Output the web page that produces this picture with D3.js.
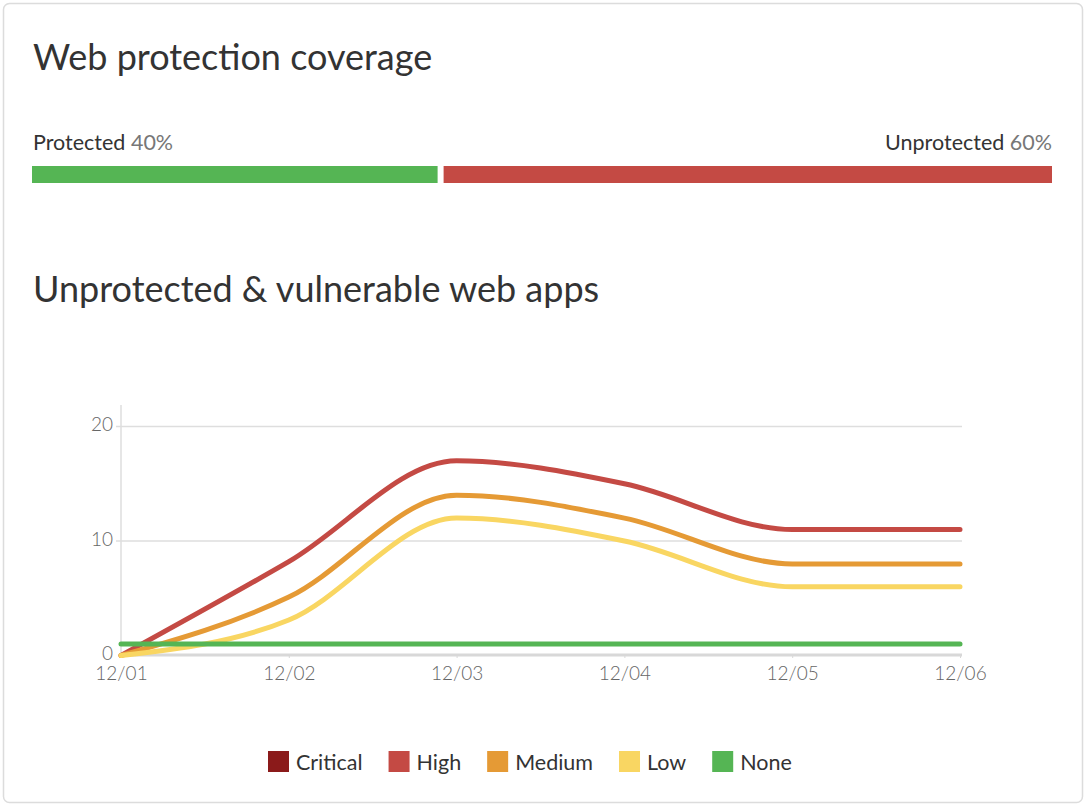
<!DOCTYPE html>
<html><head><meta charset="utf-8">
<script src="https://cdn.jsdelivr.net/npm/d3@7"></script>
<style>
html,body{margin:0;padding:0;background:#fff;}
body{width:1086px;height:806px;overflow:hidden;font-family:Lato,"Open Sans",sans-serif;}
</style></head>
<body><svg id="c" width="1086" height="806"></svg>
<script>
const coverageLabels = ["Protected", "Unprotected"];
const coverageValues = [40, 60];
const coverageColors = ["#55b554", "#c44a44"];

const dates = ["12/01", "12/02", "12/03", "12/04", "12/05", "12/06"];
const seriesNames = ["Critical", "High", "Medium", "Low", "None"];
const seriesColors = ["#8b1a1a", "#c44a44", "#e59a35", "#f9d662", "#55b554"];
const critical = [0, 0, 0, 0, 0, 0];
const high = [0, 8.2, 17, 15, 11, 11];
const medium = [0, 5.1, 14, 12, 8, 8];
const low = [0, 3.1, 12, 10, 6, 6];
const none = [1, 1, 1, 1, 1, 1];
const yTicks = [0, 10, 20];

const seriesValues = [critical, high, medium, low, none];
const svg = d3.select("#c");

// card
svg.append("rect").attr("x", 3.5).attr("y", 3.5).attr("width", 1079).attr("height", 799)
  .attr("rx", 6).attr("fill", "#fff").attr("stroke", "#dcdcdc").attr("stroke-width", 1.5);

svg.append("text").attr("x", 33).attr("y", 70).attr("font-size", 36).attr("fill", "#333")
  .text("Web protection coverage");

// coverage bar
const total = d3.sum(coverageValues);
const gap = 6;
const bx = d3.scaleLinear().domain([0, total]).range([32, 1052 - gap]);
let acc = 0;
coverageValues.forEach((v, i) => {
  const x0 = bx(acc) + (i > 0 ? gap : 0);
  const x1 = bx(acc + v) + (i > 0 ? gap : 0);
  svg.append("rect").attr("x", x0).attr("y", 166).attr("width", x1 - x0).attr("height", 17)
    .attr("fill", coverageColors[i]);
  acc += v;
});
const lt = svg.append("text").attr("x", 33).attr("y", 149.5).attr("font-size", 21.5).attr("fill", "#333");
lt.append("tspan").text(coverageLabels[0] + " ");
lt.append("tspan").attr("fill", "#777").text(coverageValues[0] + "%");
const rt = svg.append("text").attr("x", 1052).attr("y", 149.5).attr("font-size", 21.5).attr("fill", "#333")
  .attr("text-anchor", "end");
rt.append("tspan").text(coverageLabels[1] + " ");
rt.append("tspan").attr("fill", "#777").text(coverageValues[1] + "%");

svg.append("text").attr("x", 33).attr("y", 302).attr("font-size", 36).attr("fill", "#333")
  .text("Unprotected & vulnerable web apps");

// line chart
const x = d3.scalePoint().domain(dates).range([121, 960]);
const y = d3.scaleLinear().domain([0, 20]).range([655.5, 426.5]);
const g = svg.append("g");

// grid
g.selectAll("line.grid").data(yTicks.filter(t => t > 0)).join("line")
  .attr("x1", 116).attr("x2", 962).attr("y1", d => y(d)).attr("y2", d => y(d))
  .attr("stroke", "#dedede").attr("stroke-width", 1.5);
// y axis line
g.append("line").attr("x1", 121).attr("x2", 121).attr("y1", 405).attr("y2", 656)
  .attr("stroke", "#dedede").attr("stroke-width", 1.5);

// y labels
g.selectAll("text.yl").data(yTicks).join("text")
  .attr("x", 113).attr("y", d => y(d) - 2).attr("dy", "0.35em").attr("text-anchor", "end")
  .attr("font-size", 19).attr("font-weight", 300).attr("fill", "#666").text(d => d);

// x axis
const xAxis = d3.axisBottom(x).tickSize(3).tickPadding(9);
const xg = g.append("g").attr("transform", "translate(0,655)").call(xAxis);
xg.select(".domain").attr("stroke", "#d8d8d8").attr("stroke-width", 3).attr("d", "M119,0H962");
xg.selectAll(".tick line").attr("stroke", "#d8d8d8");
xg.selectAll(".tick text").attr("font-size", 19).attr("font-weight", 300).attr("fill", "#666")
  .attr("font-family", "Lato, sans-serif");

// lines
const line = d3.line().x((d, i) => x(dates[i])).y(d => y(d)).curve(d3.curveMonotoneX);
seriesValues.forEach((vals, i) => {
  if (i === 0) return; // critical hidden under axis
  g.append("path").attr("d", line(vals)).attr("fill", "none")
    .attr("stroke", seriesColors[i]).attr("stroke-width", 5).attr("stroke-linecap", "round");
});

// legend
const lg = svg.append("g");
let lx = 268;
seriesNames.forEach((n, i) => {
  lg.append("rect").attr("x", lx).attr("y", 751).attr("width", 21).attr("height", 21)
    .attr("fill", seriesColors[i]);
  const t = lg.append("text").attr("x", lx + 28).attr("y", 770).attr("font-size", 21.5).attr("fill", "#333").text(n);
  lx += 28 + t.node().getComputedTextLength() + 26;
});
</script></body></html>
